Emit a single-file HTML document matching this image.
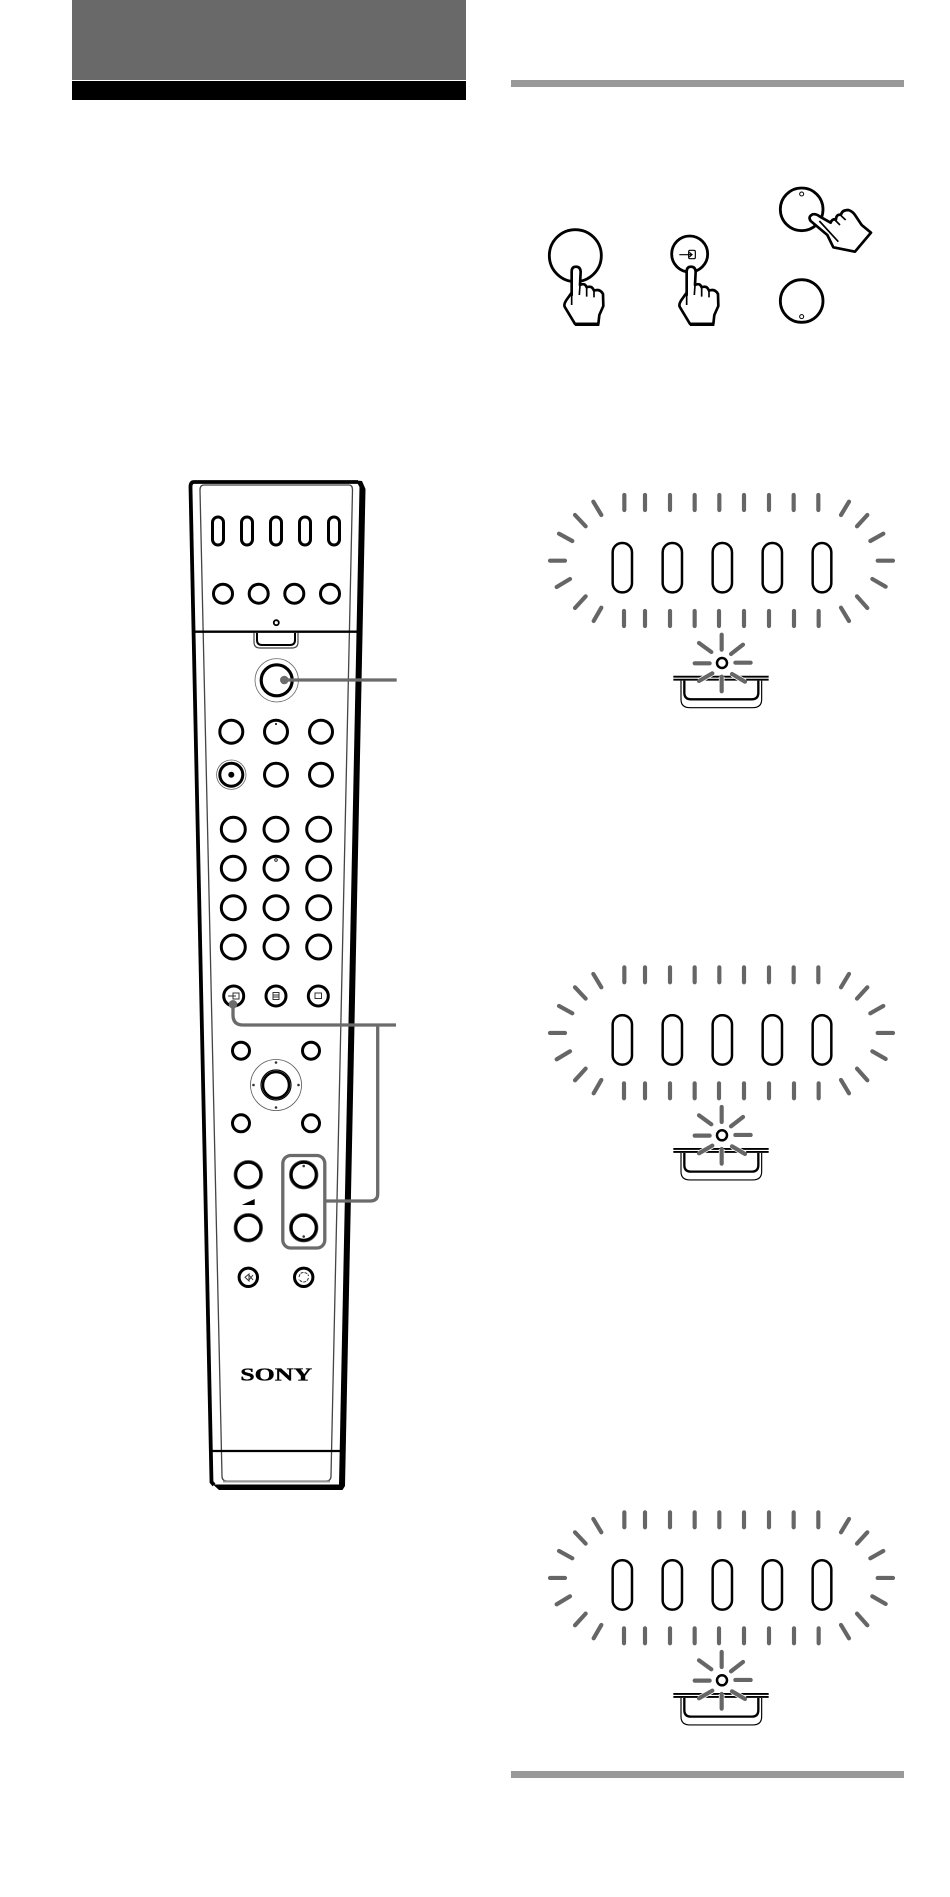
<!DOCTYPE html>
<html>
<head>
<meta charset="utf-8">
<style>
html,body{margin:0;padding:0;background:#fff}
svg{display:block}
</style>
</head>
<body>
<svg width="950" height="1897" viewBox="0 0 950 1897" xmlns="http://www.w3.org/2000/svg">
<defs>
<g id="flash">
  <g stroke="#666" stroke-width="12.500" stroke-linecap="round" fill="none">
    <path d="M283 75V120M345 75V120M420 75V120M494 75V120M568 75V120M642 75V120M717 75V120M791 75V120M865 75V120"/>
    <path d="M282 423V468M345 423V468M420 423V468M494 423V468M567 423V468M642 423V468M717 423V468M792 423V468M866 423V468"/>
    <path d="M190 95L214 135M135 135L167 169M87 191L127 213M60 272H105M80 351L120 327M135 414L167 379M191 453L214 413"/>
    <path d="M957 95L933 135M1012 135L981 169M1060 191L1021 213M1089 272H1043M1067 350L1027 327M1012 414L981 379M957 453L933 413"/>
  </g>
  <g fill="#fff" stroke="#000" stroke-width="7.500">
    <rect x="248" y="219" width="58" height="148" rx="28"/>
    <rect x="398" y="219" width="58" height="148" rx="28"/>
    <rect x="548" y="219" width="58" height="148" rx="28"/>
    <rect x="698" y="219" width="58" height="148" rx="28"/>
    <rect x="848" y="219" width="56" height="148" rx="28"/>
  </g>
  <g fill="none" stroke="#000">
    <path d="M430 620H716M430 629H716" stroke-width="5.500"/>
    <path d="M453 632V688Q453 713 480 713H668Q695 713 695 688V632" stroke-width="3.500"/>
    <path d="M463 632V668Q463 688 483 688H665Q685 688 685 668V632" stroke-width="7"/>
    <circle cx="576" cy="579" r="15" fill="#fff" stroke-width="7.500"/>
  </g>
  <g stroke="#fff" stroke-width="17" stroke-linecap="butt" fill="none">
    <path d="M507 633L547 610M575 620V650M645 635L606 612"/>
  </g>
  <g stroke="#666" stroke-width="12.500" stroke-linecap="round" fill="none">
    <path d="M507 519L544 546M575 494V539M639 524L603 552M494 580H539M616 578H662M507 633L547 610M575 620V664M645 635L606 612"/>
  </g>
</g>
<g id="hand">
  <path d="M155 375L155 305Q155 290 168 290Q181 290 182 305L180 345Q195 338 200 352Q215 345 222 362Q240 355 249 372L250 408L238 435L235 462L165 462L135 412Q130 405 138 392L155 368Z" fill="#fff" stroke="#000" stroke-width="8" stroke-linejoin="round"/>
  <path d="M155 370V405M180 345L178 375M200 352V380M222 362V382" fill="none" stroke="#000" stroke-width="5"/>
  <path d="M165 463H238" stroke="#000" stroke-width="10"/>
</g>
</defs>

<!-- header bars -->
<rect x="72" y="0" width="394" height="80" fill="#696969"/>
<rect x="72" y="81" width="394" height="19" fill="#000"/>
<rect x="511" y="80" width="393" height="7" fill="#999"/>
<rect x="511" y="1771" width="393" height="7" fill="#999"/>

<!-- hands, left pair -->
<g transform="translate(520,170) scale(.33333)">
  <circle cx="166" cy="257" r="78" fill="#fff" stroke="#000" stroke-width="8.500"/>
  <use href="#hand"/>
  <circle cx="509" cy="252" r="54" fill="#fff" stroke="#000" stroke-width="8.500"/>
  <rect x="506" y="241" width="20" height="25" rx="4" fill="none" stroke="#000" stroke-width="3.500"/>
  <path d="M478 254H516M508 247L516 254L508 261" fill="none" stroke="#000" stroke-width="3.500"/>
  <use href="#hand" x="345"/>
</g>
<!-- right pair -->
<g transform="translate(740,170) scale(.33333)">
  <circle cx="185" cy="118" r="64" fill="#fff" stroke="#000" stroke-width="8.500"/>
  <circle cx="185" cy="72" r="6" fill="#fff" stroke="#000" stroke-width="3"/>
  <path d="M212 153Q203 140 218 133Q228 131 240 140L272 158Q276 146 288 148Q288 133 303 134Q306 120 325 120Q338 124 345 135L365 165L393 188L345 245L280 232L262 195Z" fill="#fff" stroke="#000" stroke-width="8" stroke-linejoin="round"/>
  <path d="M238 153L295 215M285 150L300 165M303 137L317 150" fill="none" stroke="#000" stroke-width="5"/>
  <circle cx="185" cy="393" r="64" fill="#fff" stroke="#000" stroke-width="8.500"/>
  <circle cx="185" cy="440" r="6" fill="#fff" stroke="#000" stroke-width="3"/>
</g>

<!-- remote body -->
<path d="M190.500 487Q190.500 482 195 482L360 482L344 1486L214 1486L211.500 1482Z" fill="#fff"/>
<path d="M358 482L194 482Q190.500 482 190.500 487L211.500 1482L214 1485" fill="none" stroke="#000" stroke-width="3.800"/>
<path d="M356 480.500L362 481L365.500 489L345 1486L342.500 1490L219 1490L213 1484.500L339 1484.500L359.500 487Z" fill="#000"/>
<path d="M200 490Q200 485 204 485L349 485Q352.500 485 352.500 490L331 1476Q331 1481 326 1481L227 1481Q222 1481 222 1476Z" fill="none" stroke="#444" stroke-width="1.300"/>
<path d="M223 1481.500H330" stroke="#999" stroke-width="2"/>
<path d="M193 631.700H359" stroke="#000" stroke-width="2.300"/>
<path d="M254 633V642Q254 648 260 648H292Q298 648 298 642V633" fill="none" stroke="#444" stroke-width="1.200"/>
<path d="M257 633V640Q257 645 262 645H290Q295 645 295 640V633" fill="#fff" stroke="#000" stroke-width="2"/>
<path d="M212 1451H340" stroke="#000" stroke-width="2.300"/>

<g fill="#fff" stroke="#000" stroke-width="3">
  <rect x="212.500" y="517" width="11" height="28" rx="5.500"/>
  <rect x="241.500" y="517" width="11" height="28" rx="5.500"/>
  <rect x="270.500" y="517" width="11" height="28" rx="5.500"/>
  <rect x="299.500" y="517" width="11" height="28" rx="5.500"/>
  <rect x="328.500" y="517" width="11" height="28" rx="5.500"/>
  <circle cx="223" cy="593.700" r="9.500"/>
  <circle cx="258.700" cy="593.700" r="9.500"/>
  <circle cx="294.300" cy="593.700" r="9.500"/>
  <circle cx="330" cy="593.700" r="9.500"/>
  <circle cx="276.300" cy="622.700" r="2.500" stroke-width="1.800"/>

  <circle cx="276.700" cy="680.300" r="21.700" stroke="#666" stroke-width=".8"/>
  <circle cx="276.700" cy="680.300" r="15.500" stroke-width="3.200"/>

  <circle cx="231.300" cy="731.700" r="11.500"/>
  <circle cx="276" cy="731.700" r="11.500"/>
  <circle cx="321" cy="731.700" r="11.500"/>

  <circle cx="231.300" cy="774.700" r="14.700" stroke="#666" stroke-width=".8"/>
  <circle cx="231.300" cy="774.700" r="11.500"/>
  <circle cx="276" cy="774.700" r="11.500"/>
  <circle cx="321" cy="774.700" r="11.500"/>

  <circle cx="233.300" cy="829.300" r="12"/>
  <circle cx="276" cy="829.300" r="12"/>
  <circle cx="318.700" cy="829.300" r="12"/>
  <circle cx="233.300" cy="868.300" r="12"/>
  <circle cx="276" cy="868.300" r="12"/>
  <circle cx="318.700" cy="868.300" r="12"/>
  <circle cx="233.300" cy="907.700" r="12"/>
  <circle cx="276" cy="907.700" r="12"/>
  <circle cx="318.700" cy="907.700" r="12"/>
  <circle cx="233.300" cy="947" r="12"/>
  <circle cx="276" cy="947" r="12"/>
  <circle cx="318.700" cy="947" r="12"/>

  <circle cx="233.700" cy="996" r="10"/>
  <circle cx="276" cy="996" r="10"/>
  <circle cx="318.300" cy="996" r="10"/>

  <circle cx="241" cy="1050.700" r="8.500"/>
  <circle cx="311" cy="1050.700" r="8.500"/>
  <circle cx="241" cy="1123.300" r="8.500"/>
  <circle cx="311" cy="1123.300" r="8.500"/>

  <circle cx="276" cy="1085" r="25.500" stroke="#555" stroke-width=".8"/>
  <circle cx="276" cy="1085" r="15" stroke-width="1.200"/>
  <circle cx="276" cy="1085" r="13" stroke-width="2.500"/>

  <circle cx="248.300" cy="1174.700" r="14.300" stroke="#555" stroke-width=".8"/>
  <circle cx="248.300" cy="1174.700" r="12.500"/>
  <circle cx="248.300" cy="1227.700" r="14.300" stroke="#555" stroke-width=".8"/>
  <circle cx="248.300" cy="1227.700" r="12.500"/>
  <circle cx="303.700" cy="1174.700" r="14.300" stroke="#555" stroke-width=".8"/>
  <circle cx="303.700" cy="1174.700" r="12.500"/>
  <circle cx="303.700" cy="1227.700" r="14.300" stroke="#555" stroke-width=".8"/>
  <circle cx="303.700" cy="1227.700" r="12.500"/>

  <circle cx="248.300" cy="1277.300" r="9.200"/>
  <circle cx="303.700" cy="1277.300" r="9.200"/>
</g>
<circle cx="231.300" cy="774.700" r="3" fill="#000"/>
<circle cx="276" cy="860" r="1.300" fill="none" stroke="#000" stroke-width=".8"/>
<circle cx="276" cy="724" r="1" fill="#000"/>
<g fill="#333">
  <circle cx="276" cy="1062.500" r="1.300"/><circle cx="276" cy="1107.500" r="1.300"/>
  <circle cx="253.500" cy="1085" r="1.300"/><circle cx="298.500" cy="1085" r="1.300"/>
  <circle cx="303.700" cy="1166" r="1.300"/><circle cx="303.700" cy="1236.500" r="1.300"/>
</g>
<path d="M241.700 1205L254.700 1199V1205Z" fill="#000"/>

<!-- small icons -->
<g fill="none" stroke="#333" stroke-width="1">
  <rect x="233" y="993" width="6" height="6"/>
  <path d="M228 996H236"/>
  <rect x="273" y="992.500" width="6" height="7"/>
  <path d="M273 995H279M273 997H279"/>
  <rect x="315" y="993" width="6.500" height="5.500"/>
  <path d="M245 1277.300L249 1274V1281Z"/>
  <path d="M249 1275L253 1280M253 1275L249 1280"/>
  <path d="M299 1277Q300 1272 304 1272.500Q308 1273 308.500 1276M308.500 1278Q307 1282 303.500 1282Q300 1281.500 299 1279" stroke-dasharray="3 1"/>
</g>

<!-- SONY logo -->
<text transform="translate(240.200,1380.300) scale(1.440,1)" font-family="'Liberation Serif',serif" font-weight="700" font-size="18" fill="#000" stroke="#000" stroke-width=".3">SONY</text>

<!-- leaders -->
<g fill="none" stroke="#6b6b6b" stroke-width="3.300">
  <path d="M284 680H396.700"/>
  <path d="M233 1004V1015Q233 1025 243 1025H396"/>
  <path d="M377.700 1025V1194Q377.700 1201 370 1201H325.700"/>
  <rect x="282.800" y="1155.500" width="42" height="92.500" rx="8"/>
</g>
<circle cx="284.300" cy="680" r="4.300" fill="#6b6b6b"/>
<circle cx="233" cy="1004.300" r="4.300" fill="#6b6b6b"/>

<!-- flashing panels -->
<use href="#flash" transform="translate(530,470) scale(.33333)"/>
<use href="#flash" transform="translate(530,942.300) scale(.33333)"/>
<use href="#flash" transform="translate(530,1487.300) scale(.33333)"/>
</svg>
</body>
</html>
